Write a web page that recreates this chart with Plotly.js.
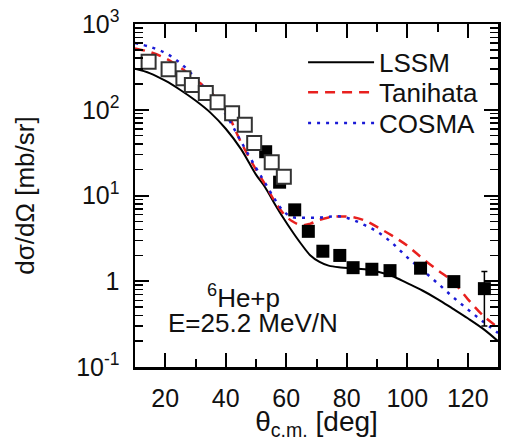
<!DOCTYPE html>
<html>
<head>
<meta charset="utf-8">
<script src="https://cdn.plot.ly/plotly-3.0.1.min.js"></script>
<style>html,body{margin:0;padding:0;background:#fff;}#chart{width:516px;height:441px;}</style>
</head>
<body>
<div id="chart"></div>
<script>
// Theory curves (theta c.m. in deg)
var theta = [10,15,20,25,30,35,40,45,50,53,56,59,62,65,68,71,74,78,82,86,90,95,100,105,110,115,120,125,130];
var lssm = [300,266,218,170,128,92,60,35,17.5,12.5,8.2,5.5,3.8,2.7,2.0,1.68,1.52,1.45,1.42,1.38,1.3,1.15,0.95,0.78,0.62,0.48,0.37,0.28,0.2];
var tanihata = [520,470,400,310,225,160,98,42,20,13.5,8.8,6.2,5.0,4.5,4.7,5.2,5.55,5.7,5.6,5.1,4.3,3.4,2.6,1.85,1.35,1.0,0.62,0.4,0.29];
var cosma = [600,540,460,350,235,150,88,43,21,14,9.3,6.6,5.6,5.5,5.5,5.55,5.65,5.7,5.2,4.5,3.8,2.8,1.9,1.35,0.95,0.66,0.47,0.34,0.25];

// Experimental data
var openX = [14.5,21.1,26,28.8,33.4,37.3,42.1,46.3,49.4,55.2,59.2];
var openY = [363,296,233,194,157,122,91,67,41,24.5,16.6];
var fillX = [53.2,57.8,62.8,67.3,72.1,77.7,82.1,88.3,94.3,104.4,115.4,125.5];
var fillY = [32.4,14.3,6.8,3.82,2.24,2.0,1.44,1.38,1.33,1.42,0.99,0.82];
var fillErrPlus = [0,0,0,0,0,0,0,0,0,0,0,0.48];
var fillErrMinus = [0,0,0,0,0,0,0,0,0,0,0,0.52];

var yTickVals = [0.1,1,10,100,1000];
var yTickText = ['10<sup>-1</sup>','1','10<sup>1</sup>','10<sup>2</sup>','10<sup>3</sup>'];
var seriesNames = ['LSSM','Tanihata','COSMA'];

var FONT = 'Arial, "Liberation Sans", sans-serif';
var legFont = {size: 26, family: FONT, color: '#111'};
function leg(yv) {
  return {x: 0.463, y: yv, xanchor: 'left', yanchor: 'middle', bgcolor: 'rgba(0,0,0,0)', font: legFont, itemwidth: 66};
}

var traces = [
  {x: theta, y: lssm, name: seriesNames[0], legend: 'legend', mode: 'lines', line: {color: '#000', width: 2, shape: 'spline', smoothing: 1}},
  {x: theta, y: tanihata, name: seriesNames[1], legend: 'legend2', mode: 'lines', line: {color: '#e8201e', width: 2.5, dash: '10px,7px', shape: 'spline', smoothing: 1}},
  {x: theta, y: cosma, name: seriesNames[2], legend: 'legend3', mode: 'lines', line: {color: '#1a1ad6', width: 2.5, dash: '3px,6px', shape: 'spline', smoothing: 1}},
  {x: fillX, y: fillY, mode: 'markers', showlegend: false,
   marker: {symbol: 'square', size: 13, color: '#000', line: {width: 0}},
   error_y: {type: 'data', symmetric: false, array: fillErrPlus, arrayminus: fillErrMinus, color: '#000', thickness: 1.5, width: 3}},
  {x: openX, y: openY, mode: 'markers', showlegend: false,
   marker: {symbol: 'square', size: 14, color: '#fff', line: {width: 2, color: '#333'}}}
];

var layout = {
  width: 516, height: 441,
  margin: {l: 135, r: 18, t: 24, b: 74},
  paper_bgcolor: '#fff', plot_bgcolor: '#fff',
  font: {family: FONT, size: 25, color: '#111'},
  showlegend: true,
  legend: leg(0.888),
  legend2: leg(0.801),
  legend3: leg(0.711),
  xaxis: {
    range: [10, 130], tick0: 0, dtick: 20,
    ticks: 'inside', ticklen: 14, tickwidth: 2, tickcolor: '#000',
    showline: true, linewidth: 2.5, linecolor: '#000', mirror: 'ticks',
    showgrid: false, zeroline: false,
    tickfont: {size: 25, family: FONT}, ticklabelstandoff: 7,
    minor: {dtick: 10, tick0: 10, ticks: 'inside', ticklen: 8, tickwidth: 2, tickcolor: '#000', showgrid: false},
    title: {text: 'θ<sub>c.m.</sub> [deg]', font: {size: 28, family: FONT}, standoff: 0}
  },
  yaxis: {
    type: 'log', range: [-1, 3],
    tickmode: 'array', tickvals: yTickVals, ticktext: yTickText,
    ticks: 'inside', ticklen: 14, tickwidth: 2, tickcolor: '#000',
    showline: true, linewidth: 2.5, linecolor: '#000', mirror: 'ticks',
    showgrid: false, zeroline: false,
    tickfont: {size: 25, family: FONT}, ticklabelstandoff: 8,
    minor: {dtick: 'D1', ticks: 'inside', ticklen: 8, tickwidth: 1.5, tickcolor: '#000', showgrid: false},
    title: {text: 'dσ/dΩ [mb/sr]', font: {size: 26, family: FONT}, standoff: 34}
  },
  annotations: [
    {xref: 'x', yref: 'y', x: 33.2, y: -0.18, xanchor: 'left', yanchor: 'middle', showarrow: false,
     text: '<sup>6</sup>He+p', font: {size: 26, family: FONT, color: '#111'}},
    {xref: 'x', yref: 'y', x: 20.3, y: -0.487, xanchor: 'left', yanchor: 'middle', showarrow: false,
     text: 'E=25.2 MeV/N', font: {size: 26, family: FONT, color: '#111'}}
  ]
};

Plotly.newPlot('chart', traces, layout, {staticPlot: true, displayModeBar: false});
</script>
</body>
</html>
